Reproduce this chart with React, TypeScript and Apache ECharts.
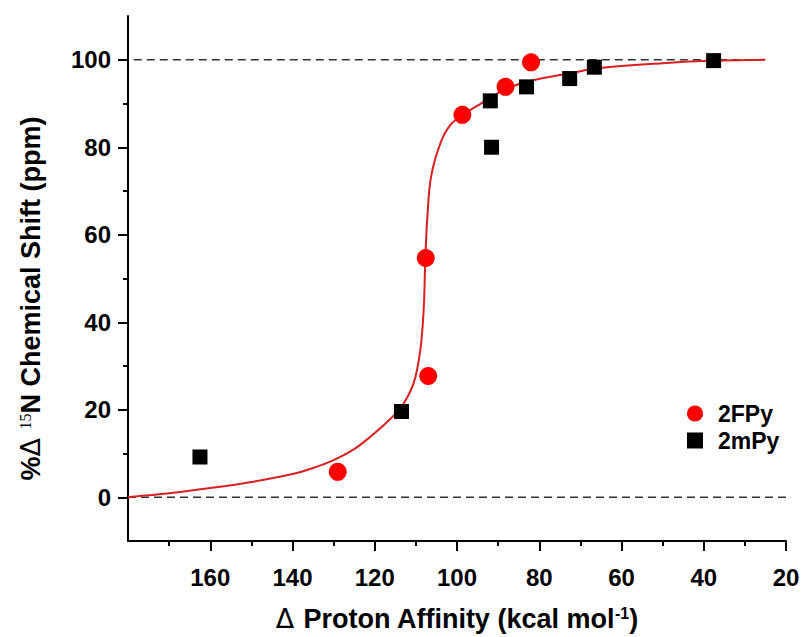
import React, { useEffect, useRef } from "react";
import * as echarts from "echarts";

// Data
const seriesNames = ["2FPy", "2mPy"];
const fpyPoints: [number, number][] = [
  [129, 5.8],
  [107, 27.7],
  [107.6, 54.7],
  [98.7, 87.4],
  [88.2, 93.8],
  [82, 99.4],
];
const mpyPoints: [number, number][] = [
  [162.5, 9.2],
  [113.5, 19.6],
  [91.6, 80.0],
  [91.9, 90.6],
  [83.1, 93.8],
  [72.6, 95.7],
  [66.6, 98.3],
  [37.6, 99.8],
];
// fitted curve
const fitCurve: [number, number][] = [
  [180, 0],
  [179, 0.1],
  [170, 0.9],
  [160, 2.1],
  [150, 3.5],
  [140, 5.3],
  [135, 6.7],
  [130, 8.5],
  [125, 11.0],
  [121, 13.9],
  [117, 17.2],
  [113.5, 20.7],
  [110.5, 26.2],
  [108.9, 33.8],
  [108.1, 42.9],
  [107.7, 54.6],
  [107.2, 64.2],
  [106.3, 73.3],
  [104, 81],
  [101.6, 85.1],
  [98.7, 87.3],
  [94.3, 89.9],
  [88.2, 93.3],
  [81.4, 95.3],
  [72.6, 96.9],
  [65.2, 98.1],
  [50, 99.2],
  [40, 99.7],
  [25, 100],
];
const refLineZero: [number, number][] = [
  [180, 0],
  [14, 0],
];
const refLineHundred: [number, number][] = [
  [178.6, 100],
  [25.5, 100],
];
const xMajorTicks = [160, 140, 120, 100, 80, 60, 40, 20];
const xMinorTicks = [170, 150, 130, 110, 90, 70, 50, 30];
const yMajorTicks = [0, 20, 40, 60, 80, 100];
const yMinorTicks = [10, 30, 50, 70, 90];

const FONT = "'Liberation Sans', Arial, Helvetica, sans-serif";

export default function App() {
  const ref = useRef<HTMLDivElement>(null);
  useEffect(() => {
    document.body.style.margin = "0";
    if (!ref.current) return;
    const chart = echarts.init(ref.current, null, { renderer: "svg" });
    const axisLine = { show: true, onZero: false, lineStyle: { color: "#000", width: 2 } };
    const tickLine = { color: "#000", width: 2 };
    const labelStyle = { fontSize: 24, fontWeight: "bold", color: "#000", fontFamily: FONT };
    const nameRich = {
      b: { fontSize: 27, fontWeight: "bold", color: "#000", fontFamily: FONT },
      d: { fontSize: 27, fontWeight: "normal", color: "#000", fontFamily: "'DejaVu Sans', sans-serif" },
      s: { fontSize: 16, fontWeight: "normal", color: "#000", fontFamily: "'Liberation Serif', serif", verticalAlign: "top" },
      sb: { fontSize: 16, fontWeight: "bold", color: "#000", fontFamily: FONT, verticalAlign: "top" },
    };
    const option: any = {
      animation: false,
      backgroundColor: "#fff",
      grid: { left: 128, right: 23, top: 16, bottom: 95, containLabel: false },
      legend: {
        orient: "vertical",
        left: 682,
        top: 397,
        itemWidth: 16,
        itemHeight: 16,
        itemGap: 4,
        data: [
          { name: seriesNames[0], icon: "circle" },
          { name: seriesNames[1], icon: "rect" },
        ],
        textStyle: { fontSize: 23, fontWeight: "bold", color: "#000", fontFamily: FONT, padding: [0, 0, 0, 10] },
      },
      xAxis: [
        {
          type: "value",
          min: 20,
          max: 180,
          inverse: true,
          position: "bottom",
          axisLine,
          axisTick: { show: true, inside: false, length: 10, lineStyle: tickLine, customValues: xMajorTicks },
          axisLabel: { ...labelStyle, margin: 24, customValues: xMajorTicks },
          splitLine: { show: false },
          name: "{d|Δ }{b|Proton Affinity (kcal mol}{sb|-1}{b|)}",
          nameLocation: "middle",
          nameGap: 64,
          nameTextStyle: { rich: nameRich },
        },
        {
          type: "value",
          min: 20,
          max: 180,
          inverse: true,
          position: "bottom",
          axisLine: { show: false, onZero: false },
          axisTick: { show: true, inside: false, length: 5, lineStyle: tickLine, customValues: xMinorTicks },
          axisLabel: { show: false },
          splitLine: { show: false },
        },
      ],
      yAxis: [
        {
          type: "value",
          min: -10,
          max: 110,
          position: "left",
          axisLine,
          axisTick: { show: true, inside: false, length: 10, lineStyle: tickLine, customValues: yMajorTicks },
          axisLabel: { ...labelStyle, margin: 17, customValues: yMajorTicks },
          splitLine: { show: false },
          name: "{b|%}{d|Δ }{s|15}{b|N Chemical Shift (ppm)}",
          nameLocation: "middle",
          nameGap: 84,
          nameRotate: 90,
          nameTextStyle: { rich: nameRich, padding: [0, 40, 0, 0] },
        },
        {
          type: "value",
          min: -10,
          max: 110,
          position: "left",
          axisLine: { show: false, onZero: false },
          axisTick: { show: true, inside: false, length: 5, lineStyle: tickLine, customValues: yMinorTicks },
          axisLabel: { show: false },
          splitLine: { show: false },
        },
      ],
      series: [
        {
          type: "line",
          name: "zero",
          data: refLineZero,
          symbol: "none",
          clip: false,
          silent: true,
          lineStyle: { color: "#333", width: 1.5, type: [8, 5] },
          z: 1,
        },
        {
          type: "line",
          name: "hundred",
          data: refLineHundred,
          symbol: "none",
          clip: false,
          silent: true,
          lineStyle: { color: "#333", width: 1.5, type: [8, 5] },
          z: 1,
        },
        {
          type: "line",
          name: "fit",
          data: fitCurve,
          symbol: "none",
          smooth: 0.35,
          clip: false,
          lineStyle: { color: "#d92020", width: 2 },
          z: 2,
        },
        {
          type: "scatter",
          name: seriesNames[1],
          data: mpyPoints,
          symbol: "rect",
          symbolSize: 15,
          itemStyle: { color: "#000", opacity: 1 },
          z: 3,
        },
        {
          type: "scatter",
          name: seriesNames[0],
          data: fpyPoints,
          symbol: "circle",
          symbolSize: 18,
          itemStyle: { color: "#ff0000", opacity: 1 },
          z: 4,
        },
      ],
    };
    chart.setOption(option);
    return () => chart.dispose();
  }, []);
  return <div ref={ref} style={{ width: 809, height: 637 }} />;
}
